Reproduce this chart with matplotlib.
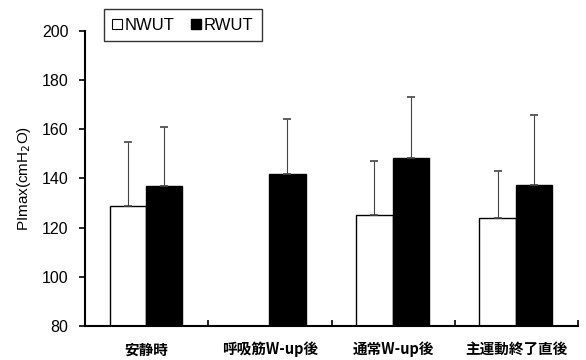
import matplotlib
matplotlib.use("Agg")
import matplotlib.pyplot as plt
from matplotlib.patches import Patch
import numpy as np

categories = ["安静時", "呼吸筋W-up後", "通常W-up後", "主運動終了直後"]
nwut_mean = [129, np.nan, 125, 124]
nwut_sd = [26, np.nan, 22, 19]
rwut_mean = [137, 142, 148.5, 137.5]
rwut_sd = [24, 22, 24.5, 28.5]
yticks = [80, 100, 120, 140, 160, 180, 200]

plt.rcParams['font.family'] = ['Liberation Sans', 'Noto Sans CJK JP', 'DejaVu Sans']

fig = plt.figure(figsize=(5.86, 3.6), dpi=100)
ax = fig.add_axes([85/586, 34/360, 493/586, 295/360])

x = np.arange(len(categories))
w = 0.295
err_kw = dict(ecolor='#444444', elinewidth=0.8, capsize=3, capthick=1.2)
nm = np.array(nwut_mean, dtype=float)
ns = np.array(nwut_sd, dtype=float)
ax.bar(x - w/2 - 0.005, nm - 80, w, bottom=80, color='white', edgecolor='black', linewidth=1.0,
       yerr=[np.zeros_like(ns), ns], error_kw=err_kw, zorder=2)
ax.bar(x + w/2 - 0.005, np.array(rwut_mean) - 80, w, bottom=80, color='black', edgecolor='black', linewidth=1.0,
       yerr=[np.zeros(len(rwut_sd)), rwut_sd], error_kw=err_kw, zorder=2)

ax.set_xlim(-0.5, 3.5)
ax.set_ylim(80, 200)
ax.set_yticks(yticks)
ax.tick_params(axis='y', direction='out', length=4, width=1.2, labelsize=11.5, pad=8)
ax.set_xticks(x)
ax.set_xticklabels(categories, fontsize=10.5, fontweight='bold', family=['Noto Sans CJK JP', 'DejaVu Sans'])
ax.tick_params(axis='x', length=0, pad=11)
# group boundary ticks
ax.set_xticks([0.5, 1.5, 2.5, 3.5], minor=True)
ax.tick_params(axis='x', which='minor', direction='in', length=4, width=1.2)

for s in ['top', 'right']:
    ax.spines[s].set_visible(False)
ax.spines['left'].set_linewidth(1.5)
ax.spines['bottom'].set_linewidth(1.5)

ax.set_ylabel("PImax(cmH$_2$O)", fontsize=11)
ax.yaxis.set_label_coords(-0.105, 0.5)

handles = [Patch(facecolor='white', edgecolor='black', linewidth=0.8),
           Patch(facecolor='black', edgecolor='black')]
leg = fig.legend(handles, ['NWUT', 'RWUT'], ncol=2, loc='center',
                 bbox_to_anchor=(183/586, 1 - 25/360), fontsize=12,
                 handlelength=0.55, handleheight=0.55, handletextpad=0.2, columnspacing=1.0,
                 frameon=True, fancybox=False, edgecolor='black', borderpad=0.5)
leg.get_frame().set_linewidth(1.0)

fig.savefig("out.png", dpi=100)
